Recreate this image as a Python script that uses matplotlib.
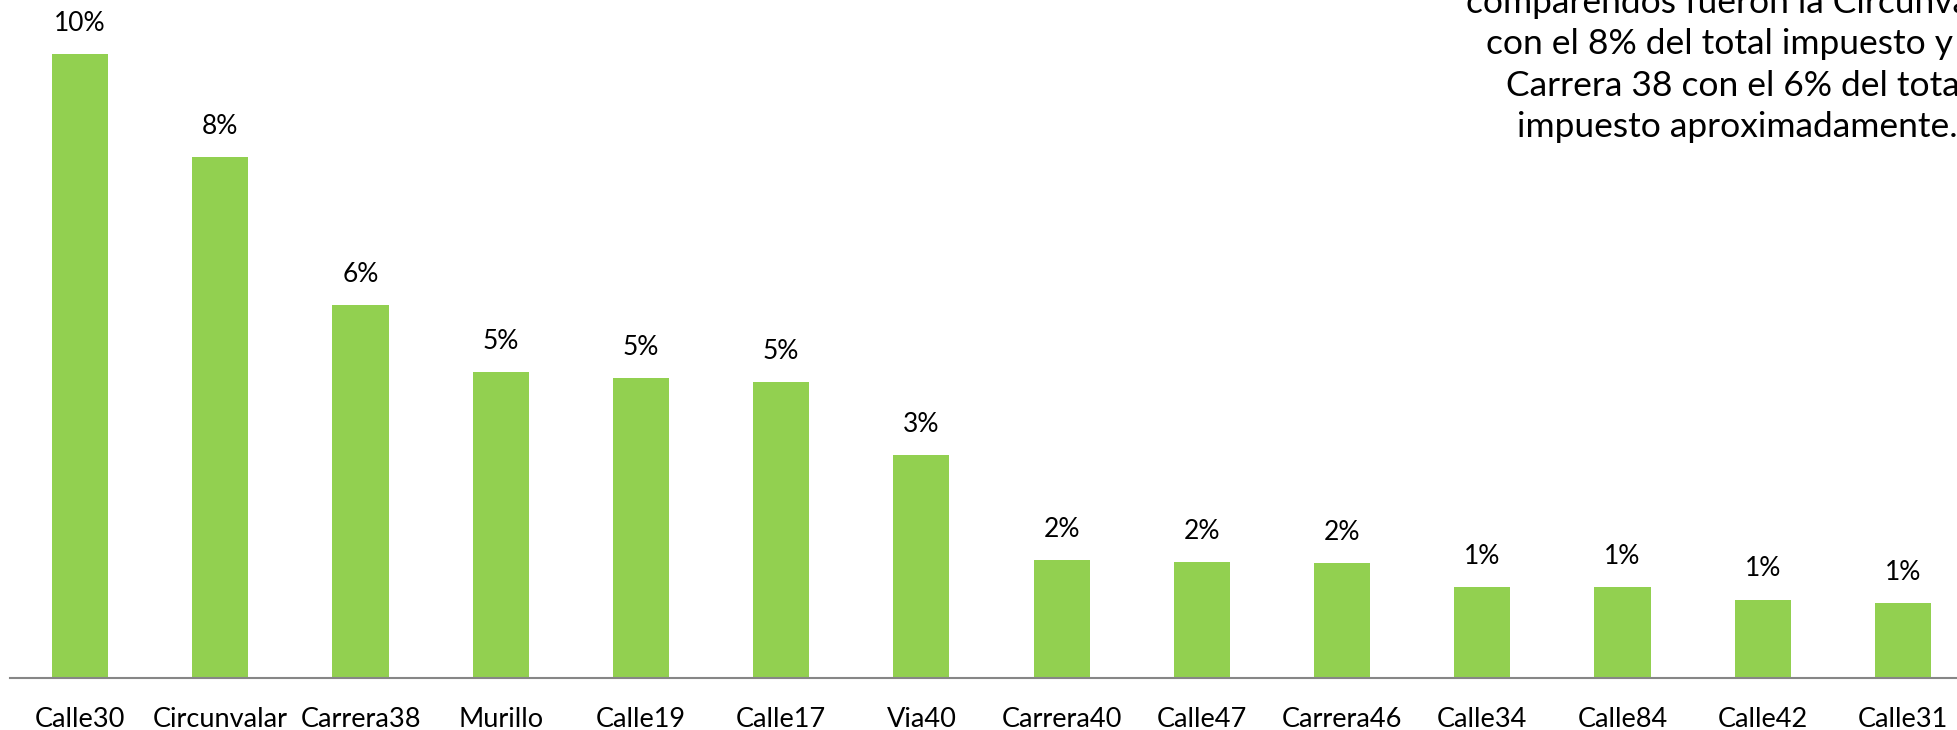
import matplotlib
matplotlib.use("Agg")
import matplotlib.pyplot as plt

plt.rcParams["font.family"] = ["Lato", "DejaVu Sans"]

# participación de comparendos por vía
vias = ["Calle30", "Circunvalar", "Carrera38", "Murillo", "Calle19", "Calle17", "Via40",
        "Carrera40", "Calle47", "Carrera46", "Calle34", "Calle84", "Calle42", "Calle31"]
participacion = [0.097, 0.081, 0.058, 0.0476, 0.0466, 0.046, 0.0346,
                 0.0183, 0.0181, 0.0179, 0.0142, 0.0141, 0.0122, 0.0117]

nota = ["comparendos fueron la Circunvalar",
        "con el 8% del total impuesto y la",
        "Carrera 38 con el 6% del total",
        "impuesto aproximadamente."]

W, H = 1957, 730
fig = plt.figure(figsize=(W / 100, H / 100), dpi=100)
ax = fig.add_axes([10 / W, 52 / H, 1963 / W, 678 / H])

x = range(len(vias))
ax.bar(x, participacion, width=0.4, color="#92D050")
for xi, v in zip(x, participacion):
    ax.annotate(f"{v:.0%}", (xi, v), xytext=(0, 22), textcoords="offset points",
                ha="center", va="center", fontsize=19, color="#000000")

ax.set_xlim(-0.5, len(vias) - 0.5)
ax.set_ylim(0, 0.1054)
ax.set_xticks(list(x))
ax.set_xticklabels(vias, fontsize=19.5)
ax.tick_params(axis="x", length=0, pad=21)
ax.set_yticks([])
for side in ["top", "right", "left"]:
    ax.spines[side].set_visible(False)
ax.spines["bottom"].set_color("#868686")
ax.spines["bottom"].set_linewidth(1.5)

fig.text(1737 / W, 1 - 65 / H, "\n".join(nota), ha="center", va="center",
         multialignment="center", fontsize=25.5, linespacing=1.36, color="#000000")

fig.savefig("out.png", dpi=100)
